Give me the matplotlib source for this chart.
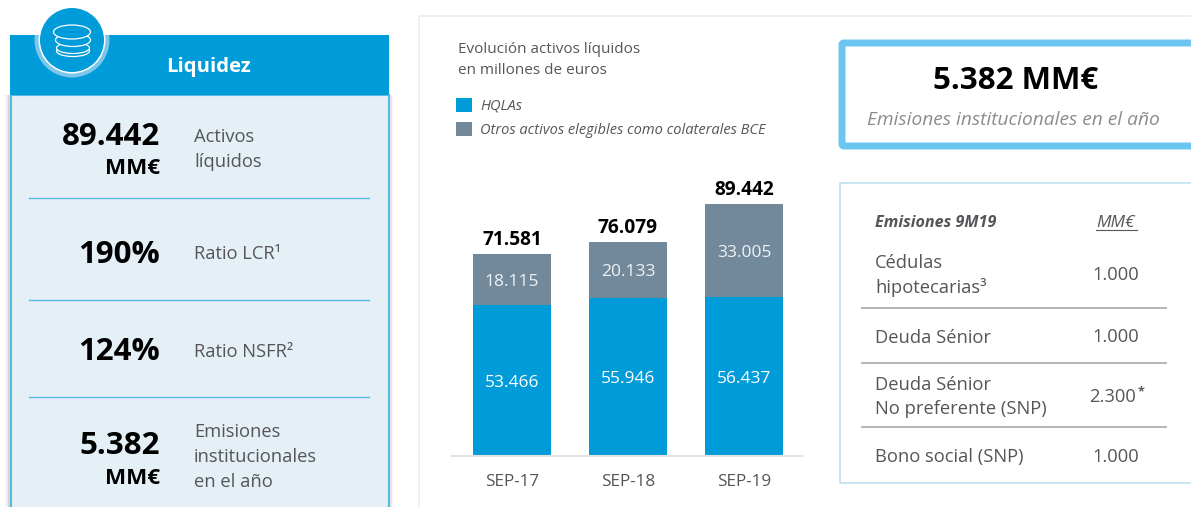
import matplotlib
matplotlib.use("Agg")
import matplotlib.pyplot as plt
from matplotlib.patches import Circle, Ellipse, FancyBboxPatch, Rectangle

plt.rcParams["font.family"] = ["Open Sans", "DejaVu Sans"]

periods = ["SEP-17", "SEP-18", "SEP-19"]
hqla = [53466, 55946, 56437]
otros = [18115, 20133, 33005]
totales = [71581, 76079, 89442]
series_names = ["HQLAs", "Otros activos elegibles como colaterales BCE"]

kpi_values = ["89.442", "190%", "124%", "5.382"]
kpi_labels = ["Activos\nlíquidos", "Ratio LCR¹", "Ratio NSFR²", "Emisiones\ninstitucionales\nen el año"]
emision_names = ["Cédulas\nhipotecarias³", "Deuda Sénior", "Deuda Sénior\nNo preferente (SNP)", "Bono social (SNP)"]
emision_values = ["1.000", "1.000", "2.300", "1.000"]

BLUE = "#009BD9"
GREY = "#72899C"
LIGHT = "#E4EFF6"
LINE = "#58B9E8"
TEXT = "#55555A"
W, H = 1191, 507


def es(v):
    return f"{v:,}".replace(",", ".")


fig = plt.figure(figsize=(W / 100, H / 100), dpi=100, facecolor="white")

# pixel canvas for the panels around the chart
bg = fig.add_axes([0, 0, 1, 1])
bg.set_xlim(0, W)
bg.set_ylim(H, 0)
bg.axis("off")

# left panel, soft shadow first
for grow, alpha in zip([5, 3.5, 2], [0.05, 0.07, 0.1]):
    bg.add_patch(Rectangle((10 - grow, 95), 378 + 2 * grow, 420, fc="#444444", ec="none", alpha=alpha))
bg.add_patch(Rectangle((10.5, 95), 378, 420, fc=LIGHT, ec=LINE, lw=1.5))
band = Rectangle((10, 35), 379, 60, fc=BLUE, ec="none")
bg.add_patch(band)
halo = Circle((72, 40), 37.5, fc="#7CC6EA", ec="none", zorder=3)
bg.add_patch(halo)
halo.set_clip_path(band)
bg.add_patch(Circle((72, 40), 33.5, fc="white", ec="none", zorder=4))
bg.add_patch(Circle((72, 40), 32, fc=BLUE, ec="none", zorder=4))
for cx, cy, w, h in zip([73, 73, 73, 72], [51, 48, 40, 32], [33, 33, 35, 37], [11, 11, 13, 14]):
    bg.add_patch(Ellipse((cx, cy), w, h, fc=BLUE, ec="white", lw=0.9, zorder=5))
bg.text(208, 67, "Liquidez", color="white", fontsize=14.6, fontweight="bold", ha="center", va="center")

for y in [198, 300, 397]:
    bg.plot([29, 369], [y, y], color=LINE, lw=1)

for y, v in zip([137, 255, 352, 446], kpi_values):
    bg.text(160, y, v, color="black", fontsize=22.5, fontweight="bold", ha="right", va="center")
for y in [169, 479]:
    bg.text(160, y, "MM€", color="black", fontsize=16.2, fontweight="bold", ha="right", va="center")
for y, t in zip([149.5, 254, 352, 457], kpi_labels):
    bg.text(194, y, t, color=TEXT, fontsize=13.2, ha="left", va="center", linespacing=1.48)

# chart card
bg.plot([419, 419, W], [H, 16, 16], color="#ECECEC", lw=1.2)
bg.text(458, 60, "Evolución activos líquidos\nen millones de euros", color=TEXT, fontsize=11,
        ha="left", va="center", linespacing=1.52)

# right top box
bg.add_patch(FancyBboxPatch((842, 43), 370, 103, boxstyle="round,pad=0,rounding_size=2",
                            fc="white", ec="#6CC5EF", lw=5))
bg.text(1016, 81, "5.382 MM€", color="black", fontsize=22.5, fontweight="bold", ha="center", va="center")
bg.text(1013, 120, "Emisiones institucionales en el año", color="#8C8C8C", fontsize=13.8, fontstyle="italic",
        ha="center", va="center")

# right table
bg.add_patch(Rectangle((839.5, 183), 370, 300, fc="white", ec="#BFE0EE", lw=1.2))
bg.text(875, 223, "Emisiones 9M19", color=TEXT, fontsize=11.6, fontweight="bold", fontstyle="italic", ha="left", va="center")
bg.text(1116, 223, "MM€", color=TEXT, fontsize=12.5, fontstyle="italic", ha="center", va="center")
bg.plot([1096, 1137], [230, 230], color=TEXT, lw=0.8)
for y in [308, 363, 427]:
    bg.plot([862, 1166], [y, y], color="#B5B5B5", lw=1.4)
for y, n, v in zip([275.5, 338, 397, 457], emision_names, emision_values):
    bg.text(875, y, n, color=TEXT, fontsize=13.2, ha="left", va="center", linespacing=1.46)
    bg.text(1113 if v == "2.300" else 1116, y - 0.5, v, color=TEXT, fontsize=13.2, ha="center", va="center")
bg.text(1141, 392, "*", color=TEXT, fontsize=9, fontweight="bold", ha="center", va="center")

# stacked bars
ax = fig.add_axes([452 / W, 1 - 456 / H, 350 / W, 281.7 / H])
ax.patch.set_alpha(0)
x = range(len(periods))
ax.bar(x, hqla, width=0.672, color=BLUE, label=series_names[0])
ax.bar(x, otros, width=0.672, bottom=hqla, color=GREY, label=series_names[1])
ax.set_xlim(-0.517, 2.5)
ax.set_ylim(0, 100000)
ax.set_xticks(list(x))
ax.set_xticklabels(periods, color=TEXT, fontsize=12.3)
ax.tick_params(axis="x", length=0, pad=13)
ax.set_yticks([])
for s in ["top", "left", "right"]:
    ax.spines[s].set_visible(False)
ax.spines["bottom"].set_color("#E4E4E4")
ax.spines["bottom"].set_linewidth(1.5)
for i in x:
    ax.annotate(es(hqla[i]), (i, hqla[i] / 2), xytext=(0, -1.5), textcoords="offset points", color="white",
                fontsize=12.5, ha="center", va="center")
    ax.annotate(es(otros[i]), (i, hqla[i] + otros[i] / 2), xytext=(0, -1.5), textcoords="offset points",
                color="#EEF2F5", fontsize=12.5, ha="center", va="center")
    ax.annotate(es(totales[i]), (i, totales[i]), xytext=(0, 10), textcoords="offset points", color="black",
                fontsize=13.8, fontweight="bold", ha="center", va="center")

handles, labels = ax.get_legend_handles_labels()
fig.legend(handles, labels, loc="upper left", bbox_to_anchor=(456 / W, 1 - 98 / H), frameon=False,
           prop={"size": 10.5, "style": "italic"}, labelcolor=TEXT, handlelength=1.1, handleheight=1.1,
           handletextpad=0.55, labelspacing=0.52, borderpad=0, borderaxespad=0)

fig.savefig("out.png", dpi=100)
